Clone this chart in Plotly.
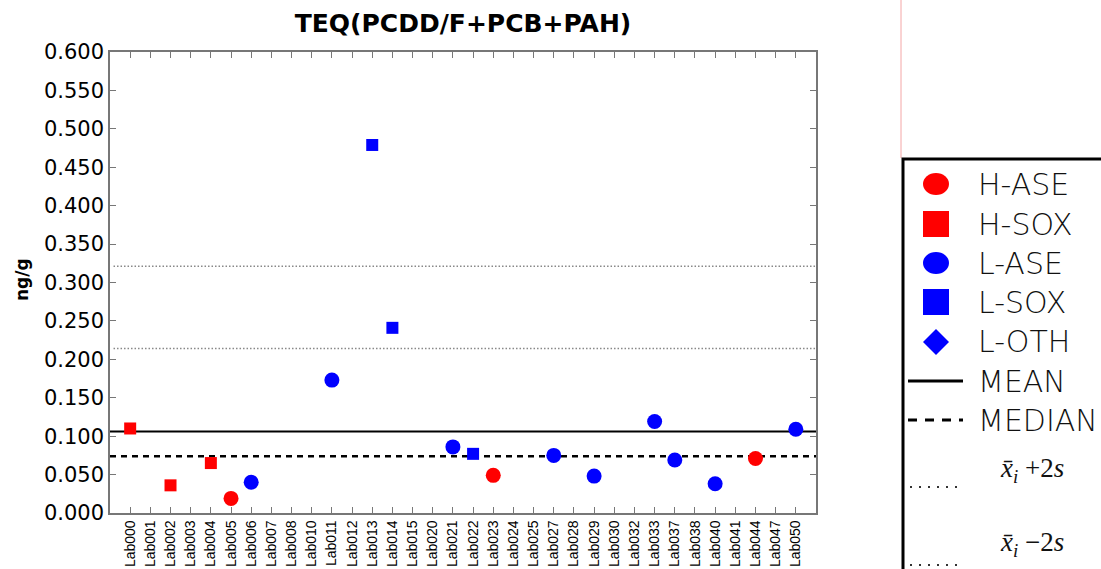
import plotly.graph_objects as go

labs = ["Lab000", "Lab001", "Lab002", "Lab003", "Lab004", "Lab005", "Lab006", "Lab007",
        "Lab008", "Lab010", "Lab011", "Lab012", "Lab013", "Lab014", "Lab015", "Lab020",
        "Lab021", "Lab022", "Lab023", "Lab024", "Lab025", "Lab027", "Lab028", "Lab029",
        "Lab030", "Lab032", "Lab033", "Lab037", "Lab038", "Lab040", "Lab041", "Lab044",
        "Lab047", "Lab050"]

h_ase_labs = ["Lab005", "Lab023", "Lab044"]
h_ase_vals = [0.019, 0.049, 0.071]
h_sox_labs = ["Lab000", "Lab002", "Lab004"]
h_sox_vals = [0.110, 0.036, 0.065]
l_ase_labs = ["Lab006", "Lab011", "Lab021", "Lab027", "Lab029", "Lab033", "Lab037", "Lab040", "Lab050"]
l_ase_vals = [0.040, 0.173, 0.086, 0.075, 0.048, 0.119, 0.069, 0.038, 0.109]
l_sox_labs = ["Lab013", "Lab014", "Lab022"]
l_sox_vals = [0.479, 0.241, 0.077]

mean_val = 0.106
median_val = 0.074
upper_val = 0.321
lower_val = 0.214

FONT = "DejaVu Sans"
FW, FH = 1101, 569

fig = go.Figure()
fig.add_trace(go.Scatter(x=h_ase_labs, y=h_ase_vals, mode="markers", name="H-ASE",
                         marker=dict(symbol="circle", size=15, color="#ff0000", line=dict(width=0))))
fig.add_trace(go.Scatter(x=h_sox_labs, y=h_sox_vals, mode="markers", name="H-SOX",
                         marker=dict(symbol="square", size=12, color="#ff0000", line=dict(width=0))))
fig.add_trace(go.Scatter(x=l_ase_labs, y=l_ase_vals, mode="markers", name="L-ASE",
                         marker=dict(symbol="circle", size=15, color="#0000ff", line=dict(width=0))))
fig.add_trace(go.Scatter(x=l_sox_labs, y=l_sox_vals, mode="markers", name="L-SOX",
                         marker=dict(symbol="square", size=12, color="#0000ff", line=dict(width=0))))

shapes = []
annots = []

# reference lines across the plot, positioned on the y scale
shapes.append(dict(type="line", xref="x domain", yref="y", x0=0, x1=1, y0=mean_val, y1=mean_val,
                   line=dict(color="black", width=2), layer="below"))
shapes.append(dict(type="line", xref="x domain", yref="y", x0=0, x1=1, y0=median_val, y1=median_val,
                   line=dict(color="black", width=2.5, dash="6px,5px"), layer="below"))
for v in (upper_val, lower_val):
    shapes.append(dict(type="line", xref="x domain", yref="y", x0=0.005, x1=1, y0=v, y1=v,
                       line=dict(color="#888888", width=1.5, dash="1.5px,2px"), layer="below"))

# ---- manual legend, in screen pixel positions converted to paper coordinates ----
L, R, T, B = 110, 816, 52, 513
W, H = R - L, B - T

def px(x):
    return (x - L) / W

def py(y):
    return (B - y) / H

shapes.append(dict(type="line", xref="paper", yref="paper", x0=px(901), x1=px(901), y0=py(0), y1=py(158),
                   line=dict(color="#f4a6a6", width=1)))
shapes.append(dict(type="rect", xref="paper", yref="paper", x0=px(903), x1=px(1115), y0=py(159), y1=py(620),
                   line=dict(color="black", width=3), fillcolor="white"))

leg_items = [
    ("H-ASE", "circle", "#ff0000", 184),
    ("H-SOX", "square", "#ff0000", 224),
    ("L-ASE", "circle", "#0000ff", 263),
    ("L-SOX", "square", "#0000ff", 302),
    ("L-OTH", "diamond", "#0000ff", 342),
]
cx = 936
TXT = dict(family=FONT, size=30, color="#111111", weight=300)
for name, sym, col, yy in leg_items:
    if sym == "circle":
        shapes.append(dict(type="circle", xref="paper", yref="paper", x0=px(cx - 13), x1=px(cx + 13),
                           y0=py(yy - 11), y1=py(yy + 11), fillcolor=col, line=dict(width=0)))
    elif sym == "square":
        shapes.append(dict(type="rect", xref="paper", yref="paper", x0=px(cx - 13), x1=px(cx + 13),
                           y0=py(yy - 13), y1=py(yy + 13), fillcolor=col, line=dict(width=0)))
    else:
        path = "M {} {} L {} {} L {} {} L {} {} Z".format(
            px(cx), py(yy - 13), px(cx + 13), py(yy), px(cx), py(yy + 13), px(cx - 13), py(yy))
        shapes.append(dict(type="path", xref="paper", yref="paper", path=path, fillcolor=col,
                           line=dict(width=0)))
    annots.append(dict(text=name, xref="paper", yref="paper", x=px(976), y=py(yy), xanchor="left",
                       yanchor="middle", showarrow=False, font=TXT))

shapes.append(dict(type="line", xref="paper", yref="paper", x0=px(908), x1=px(963), y0=py(381), y1=py(381),
                   line=dict(color="black", width=3)))
annots.append(dict(text="MEAN", xref="paper", yref="paper", x=px(976), y=py(381), xanchor="left",
                   yanchor="middle", showarrow=False, font=TXT))
shapes.append(dict(type="line", xref="paper", yref="paper", x0=px(908), x1=px(963), y0=py(420), y1=py(420),
                   line=dict(color="black", width=3, dash="9px,8px")))
annots.append(dict(text="MEDIAN", xref="paper", yref="paper", x=px(976), y=py(420), xanchor="left",
                   yanchor="middle", showarrow=False, font=TXT))

for lab, ty, ly in [("+2", 470, 487), ("\u22122", 544, 565)]:
    shapes.append(dict(type="line", xref="paper", yref="paper", x0=px(910), x1=px(963), y0=py(ly), y1=py(ly),
                       line=dict(color="#333333", width=2, dash="2px,7px")))
    annots.append(dict(text="<i>x\u0304</i><sub><i>i</i></sub> " + lab + "<i>s</i>", xref="paper", yref="paper",
                       x=px(998), y=py(ty), xanchor="left", yanchor="middle", showarrow=False,
                       font=dict(family="Liberation Serif", size=27, color="#111111")))

# y axis title
annots.append(dict(text="<b>ng/g</b>", xref="paper", yref="paper", x=px(22), y=py(280), textangle=-90,
                   xanchor="center", yanchor="middle", showarrow=False,
                   font=dict(family=FONT, size=17, color="black")))

fig.update_layout(
    width=FW, height=FH,
    margin=dict(l=L, r=FW - R, t=T, b=FH - B, autoexpand=False),
    paper_bgcolor="white", plot_bgcolor="white",
    showlegend=False,
    title=dict(text="<b>TEQ(PCDD/F+PCB+PAH)</b>", x=(L + R) / 2 / FW, xanchor="center",
               y=1 - 23 / FH, yanchor="middle", font=dict(family=FONT, size=25, color="black")),
    shapes=shapes,
    annotations=annots,
)
fig.update_xaxes(type="category", categoryorder="array", categoryarray=labs,
                 range=[-1, len(labs)], tickmode="array", tickvals=labs, ticktext=labs,
                 tickangle=-90, ticks="inside", ticklen=6, tickcolor="#777777", tickwidth=1,
                 showline=True, linecolor="#777777", linewidth=1.5, mirror="ticks",
                 showgrid=False, zeroline=False, automargin=False,
                 tickfont=dict(family="Liberation Sans", size=14, color="black"))
fig.update_yaxes(range=[0, 0.6], dtick=0.05, tick0=0, tickformat=".3f",
                 ticks="inside", ticklen=6, tickcolor="#777777", tickwidth=1,
                 showline=True, linecolor="#777777", linewidth=1.5, mirror="ticks",
                 showgrid=False, zeroline=False, automargin=False,
                 tickfont=dict(family=FONT, size=21, color="black"))

fig.write_html("out.html", config={"displayModeBar": False},
               post_script="document.body.style.margin='0';document.body.style.overflow='hidden';")
